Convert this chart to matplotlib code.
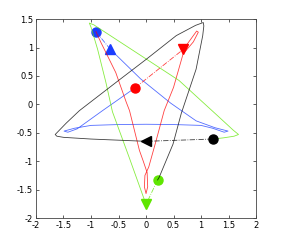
import matplotlib
matplotlib.use('Agg')
import matplotlib.pyplot as plt
from matplotlib.ticker import FormatStrFormatter

plt.rcParams['axes.unicode_minus'] = False

# solid paths (from each triangle to the next circle)
blue_x = [-0.65, -0.1, 0.45, 0.91, 1.25, 1.49, 1.42, 1.21, 1.0, 0.5, 0.0, -0.5, -1.0, -1.3, -1.49, -1.42, -1.25, -0.79, -0.2]
blue_y = [0.97, 0.45, 0.02, -0.29, -0.41, -0.47, -0.49, -0.42, -0.37, -0.355, -0.35, -0.355, -0.37, -0.42, -0.47, -0.49, -0.43, -0.11, 0.29]

red_x = [0.68, 0.80, 0.92, 0.95, 0.86, 0.72, 0.68, 0.50, 0.33, 0.18, 0.05, -0.02, -0.03, 0.0, 0.03, 0.02, -0.05, -0.12, -0.30, -0.36, -0.55, -0.82, -0.91]
red_y = [0.97, 1.13, 1.29, 1.27, 1.10, 0.94, 0.91, 0.30, -0.11, -0.65, -1.10, -1.25, -1.45, -1.57, -1.45, -1.20, -1.00, -0.81, -0.11, 0.04, 0.56, 1.09, 1.28]

green_x = [0.0, -0.3, -0.61, -0.73, -0.88, -1.00, -1.03, -0.95, 0.0, 0.6, 1.30, 1.58, 1.68, 1.60, 1.40, 1.21]
green_y = [-1.76, -0.95, -0.13, 0.39, 0.97, 1.36, 1.43, 1.40, 0.80, 0.42, -0.20, -0.45, -0.53, -0.56, -0.59, -0.61]

black_x = [0.0, -0.5, -1.0, -1.5, -1.62, -1.65, -1.45, -1.21, -0.5, 0.0, 0.55, 0.90, 1.04, 1.05, 1.03, 0.91, 0.64, 0.49, 0.24, 0.21]
black_y = [-0.65, -0.63, -0.61, -0.58, -0.56, -0.53, -0.33, -0.11, 0.42, 0.79, 1.21, 1.39, 1.44, 1.38, 1.21, 0.62, -0.16, -0.70, -1.28, -1.33]

# circle -> triangle (dash-dot)
circle_x = {'blue': -0.91, 'red': -0.20, 'green': 0.21, 'black': 1.21}
circle_y = {'blue': 1.28, 'red': 0.29, 'green': -1.33, 'black': -0.61}
tri_x = {'blue': -0.65, 'red': 0.68, 'green': 0.0, 'black': 0.0}
tri_y = {'blue': 0.97, 'red': 0.97, 'green': -1.76, 'black': -0.65}
tri_marker = {'blue': '^', 'red': 'v', 'green': 'v', 'black': '<'}

colors = {'blue': '#1a3cff', 'red': '#ff0000', 'green': '#5fe600', 'black': '#000000'}
paths = {'blue': (blue_x, blue_y), 'red': (red_x, red_y),
         'green': (green_x, green_y), 'black': (black_x, black_y)}

fig = plt.figure(figsize=(2.83, 2.45), dpi=100)
ax = fig.add_axes([0.127, 0.110, 0.778, 0.812])

for name in ['blue', 'red', 'green', 'black']:
    c = colors[name]
    px, py = paths[name]
    ax.plot(px, py, '-', color=c, lw=0.6, alpha=0.75)
    ax.plot([circle_x[name], tri_x[name]], [circle_y[name], tri_y[name]],
            '-.', color=c, lw=0.6, alpha=0.75)
    ax.plot(circle_x[name], circle_y[name], 'o', color=c, ms=6.5, mec=c)
    ax.plot(tri_x[name], tri_y[name], tri_marker[name], color=c, ms=6.5, mec=c)

ax.set_xlim(-2, 2)
ax.set_ylim(-2, 1.5)
ax.set_xticks([-2, -1.5, -1, -0.5, 0, 0.5, 1, 1.5, 2])
ax.set_yticks([-2, -1.5, -1, -0.5, 0, 0.5, 1, 1.5])
ax.xaxis.set_major_formatter(FormatStrFormatter('%g'))
ax.yaxis.set_major_formatter(FormatStrFormatter('%g'))
ax.tick_params(direction='in', top=True, right=True, labelsize=6,
               length=2.5, width=0.6, color='#444444', pad=2)
for s in ax.spines.values():
    s.set_linewidth(0.6)
    s.set_color('#444444')

fig.savefig('out.png', dpi=100)
